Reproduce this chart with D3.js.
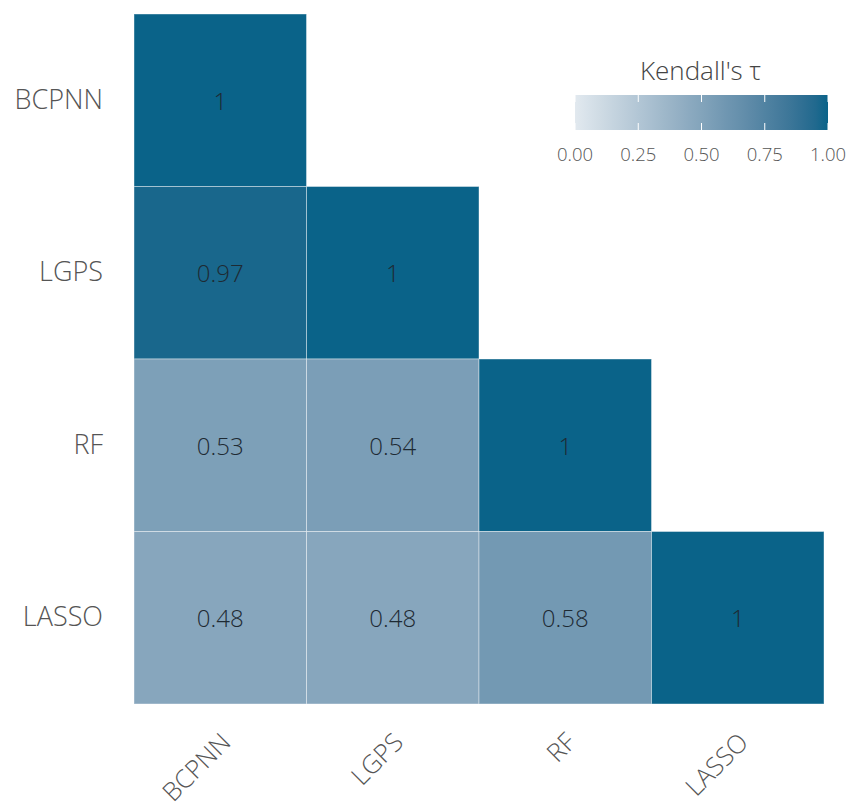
<!DOCTYPE html>
<html><head><meta charset="utf-8">
<script src="https://cdn.jsdelivr.net/npm/d3@7"></script>
<style>body{margin:0;background:#fff;} text{font-family:"Open Sans","Noto Sans",sans-serif;}</style>
</head><body><svg id="c" width="848" height="812"></svg>
<script>
const methods = ["BCPNN","LGPS","RF","LASSO"];
const rows = ["BCPNN","BCPNN","LGPS","BCPNN","LGPS","RF","BCPNN","LGPS","RF","LASSO"];
const cols = ["BCPNN","LGPS","LGPS","RF","RF","RF","LASSO","LASSO","LASSO","LASSO"];
const taus = [1,0.97,1,0.53,0.54,1,0.48,0.48,0.58,1];
const legendTicks = [0,0.25,0.5,0.75,1];
const legendTitle = "Kendall's τ";

const svg = d3.select("#c");
const x = d3.scaleBand().domain(methods).range([134,824]);
const y = d3.scaleBand().domain(methods).range([14,704]);
const color = d3.scaleLinear().domain([0,1]).range(["#e2e9ef","#0a6389"]).interpolate(d3.interpolateLab);

const data = taus.map((v,i)=>({col:rows[i], row:cols[i], v}));
svg.selectAll("rect.cell").data(data).join("rect").attr("class","cell")
  .attr("x",d=>x(d.col)).attr("y",d=>y(d.row))
  .attr("width",x.bandwidth()).attr("height",y.bandwidth())
  .attr("fill",d=>color(d.v)).attr("stroke","rgba(255,255,255,0.4)").attr("stroke-width",1);
svg.selectAll("text.val").data(data).join("text").attr("class","val")
  .attr("x",d=>x(d.col)+x.bandwidth()/2).attr("y",d=>y(d.row)+y.bandwidth()/2)
  .attr("text-anchor","middle").attr("dominant-baseline","central")
  .attr("font-size",24).attr("font-weight",300).attr("fill","#1e2a33").text(d=>d.v);

const yAxis = d3.axisLeft(y).tickSize(0).tickPadding(31);
const gy = svg.append("g").attr("transform","translate(134,0)").call(yAxis);
gy.select(".domain").remove();
gy.selectAll("text").attr("font-size",27).attr("font-weight",300).attr("fill","#555").style("font-family","'Open Sans','Noto Sans',sans-serif");

const xAxis = d3.axisBottom(x).tickSize(0).tickPadding(0);
const gx = svg.append("g").attr("transform","translate(0,704)").call(xAxis);
gx.select(".domain").remove();
gx.selectAll("text").attr("font-size",25.5).attr("font-weight",300).attr("fill","#555")
  .style("font-family","'Open Sans','Noto Sans',sans-serif")
  .attr("text-anchor","end").attr("dy",0)
  .attr("transform","translate(12,40) rotate(-45)");

// legend
const lx = d3.scaleLinear().domain([0,1]).range([575,828]);
const defs = svg.append("defs");
const grad = defs.append("linearGradient").attr("id","lg");
d3.range(0,1.01,0.05).forEach(t=>grad.append("stop").attr("offset",t).attr("stop-color",color(t)));
svg.append("rect").attr("x",575).attr("y",95).attr("width",253).attr("height",35).attr("fill","url(#lg)");
legendTicks.forEach(t=>{
  svg.append("line").attr("x1",lx(t)).attr("x2",lx(t)).attr("y1",95).attr("y2",102).attr("stroke","#fff").attr("stroke-width",1);
  svg.append("line").attr("x1",lx(t)).attr("x2",lx(t)).attr("y1",123).attr("y2",130).attr("stroke","#fff").attr("stroke-width",1);
});
svg.selectAll("text.lt").data(legendTicks).join("text").attr("class","lt")
  .attr("x",d=>lx(d)).attr("y",161).attr("text-anchor","middle")
  .attr("font-size",18.5).attr("font-weight",300).attr("fill","#555").text(d=>d3.format(".2f")(d));
svg.append("text").attr("x",lx(0.5)-1).attr("y",80).attr("text-anchor","middle")
  .attr("font-size",26).attr("font-weight",300).attr("fill","#444").text(legendTitle);
</script></body></html>
